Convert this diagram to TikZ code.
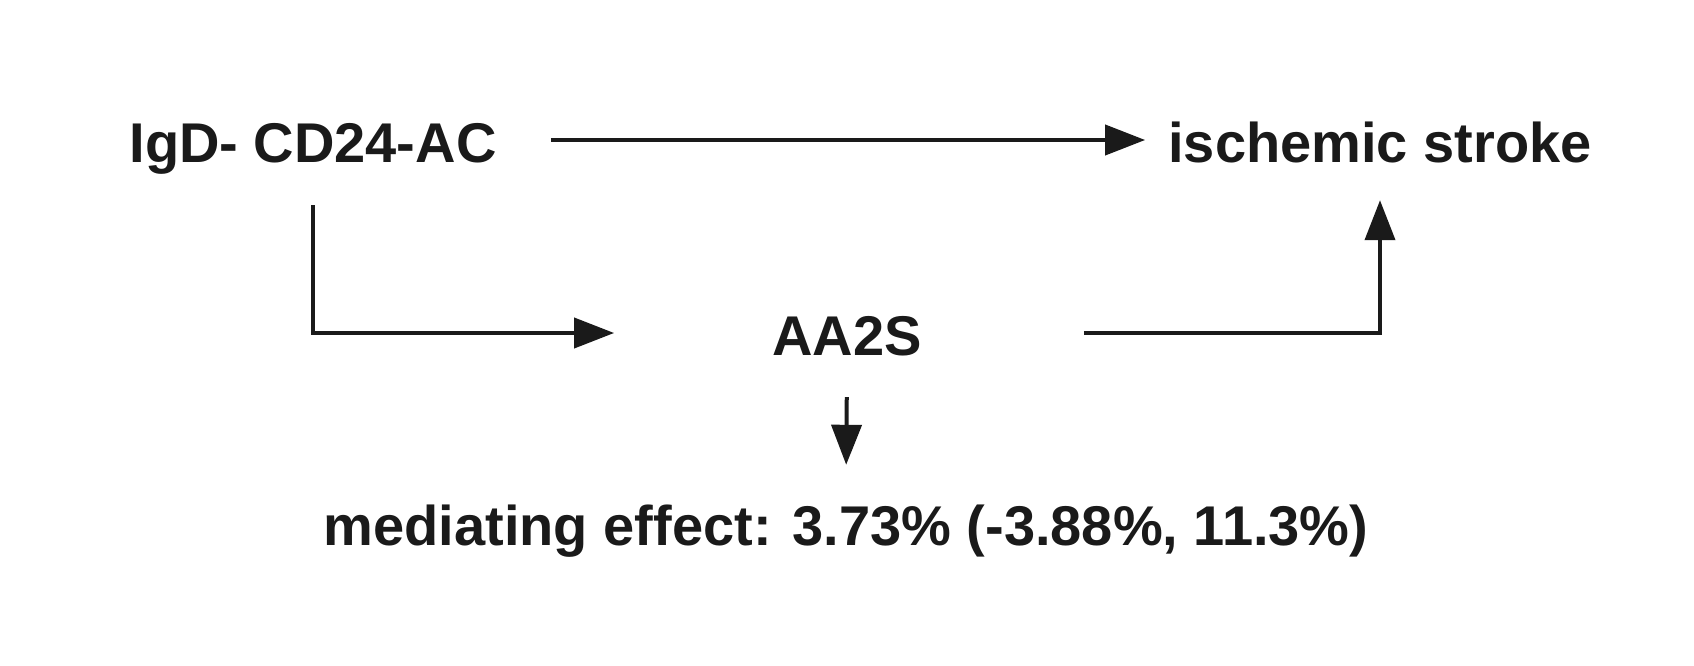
\documentclass[tikz,border=0pt]{standalone}
\usepackage{fontspec}
\setmainfont{Liberation Sans}
\usepackage{tikz}
\usetikzlibrary{arrows.meta, positioning}

\definecolor{ink}{HTML}{1A1A1A}

\begin{document}
\begin{tikzpicture}[
  x=1pt, y=-1pt,
  lab/.style={inner sep=0pt, text=ink, text height=58pt, text depth=14pt,
    font=\fontsize{56}{60}\selectfont\bfseries},
  edge/.style={-{Triangle[length=40pt, width=30pt]}, line width=4pt, draw=ink}
]
\useasboundingbox (0,0) rectangle (1694,666);

\node[lab] (expo) at (313,140) {IgD- CD24-AC};
\node[lab] (outc) at (1380,140) {ischemic stroke};
\node[lab] (medi) at (847,333) {AA2S};
\node[lab] (eff) at (846,523) {mediating effect: 3.73\% (-3.88\%, 11.3\%)};

\draw[edge, shorten <=54pt, shorten >=23pt] (expo.east) -- (outc.west);
\draw[edge, shorten <=29pt, shorten >=158pt] (expo.south) |- (medi.west);
\draw[edge, shorten <=162pt, shorten >=24pt] (medi.east) -| (outc.south);
\draw[edge, shorten <=28pt, shorten >=22pt] (medi.south) -- (eff.north);
\end{tikzpicture}
\end{document}
